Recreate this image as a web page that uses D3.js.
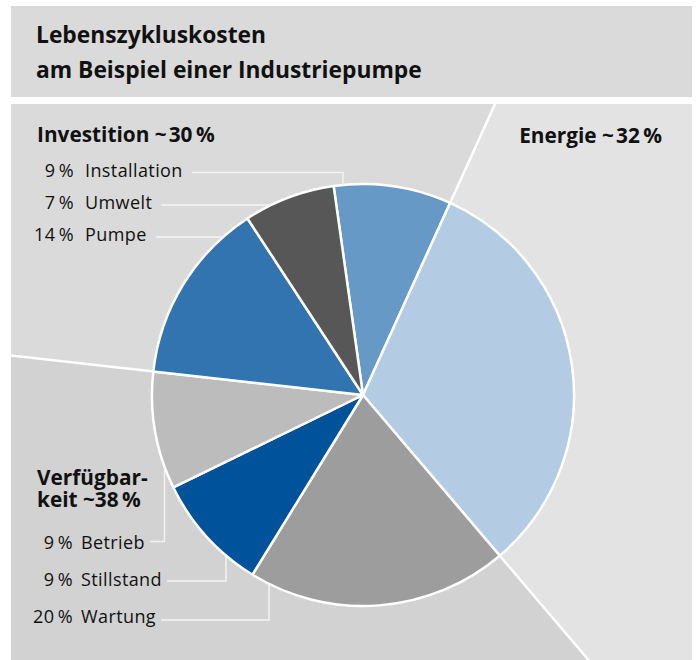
<!DOCTYPE html>
<html>
<head>
<meta charset="utf-8">
<script src="https://cdn.jsdelivr.net/npm/d3@7"></script>
<style>
  body { margin: 0; background: #fff; }
  svg { display: block; }
</style>
</head>
<body>
<div id="chart"></div>
<script>
// slices, clockwise from the top
const sliceNames = ["Installation", "Energie", "Wartung", "Stillstand", "Betrieb", "Pumpe", "Umwelt"];
const sliceValues = [9, 32, 20, 9, 9, 14, 7];
const sliceColors = ["#6699c6", "#b3cce3", "#9d9d9d", "#00529b", "#bcbcbc", "#3274b0", "#575757"];

// groups of slices (first / last slice index)
const groupNames = ["Investition", "Energie", "Verfügbarkeit"];
const groupShares = [30, 32, 38];
const groupSlices = [[5, 0], [1, 1], [2, 4]];
const groupColors = ["#d9dad9", "#e3e3e3", "#d1d2d1"];

const title = ["Lebenszykluskosten", "am Beispiel einer Industriepumpe"];

const width = 697, height = 660;
const cx = 363, cy = 395, r = 211;
const font = "'Open Sans', 'Noto Sans', sans-serif";

const svg = d3.select("#chart").append("svg")
    .attr("width", width)
    .attr("height", height)
    .attr("font-family", font)
    .attr("fill", "#111");

// title box
svg.append("rect")
    .attr("x", 11).attr("y", 6)
    .attr("width", 681).attr("height", 91)
    .attr("fill", "#d9dad9");

svg.append("text")
    .attr("x", 36).attr("y", 43)
    .attr("font-size", 22.8)
    .attr("font-weight", 700)
    .selectAll("tspan")
    .data(title)
    .join("tspan")
    .attr("x", 36)
    .attr("dy", (d, i) => i ? 34.5 : 0)
    .text(d => d);

// pie layout
const pie = d3.pie()
    .sort(null)
    .startAngle(-8 * Math.PI / 180)
    .endAngle(352 * Math.PI / 180);
const arcs = pie(sliceValues);

// background regions, one wedge per group, clipped to the panel
svg.append("clipPath").attr("id", "panel")
    .append("rect")
    .attr("x", 11).attr("y", 104)
    .attr("width", 681).attr("height", height - 104);

const big = d3.arc().innerRadius(0).outerRadius(1500);
const bg = svg.append("g")
    .attr("clip-path", "url(#panel)")
    .append("g")
    .attr("transform", `translate(${cx},${cy})`);

const regions = groupSlices.map(([a, b], i) => {
    let s = arcs[a].startAngle, e = arcs[b].endAngle;
    if (e < s) e += 2 * Math.PI;
    return {startAngle: s, endAngle: e, color: groupColors[i]};
});

bg.selectAll("path")
    .data(regions)
    .join("path")
    .attr("d", big)
    .attr("fill", d => d.color);

bg.selectAll("line")
    .data(regions)
    .join("line")
    .attr("x1", 0).attr("y1", 0)
    .attr("x2", d => 1500 * Math.sin(d.startAngle))
    .attr("y2", d => -1500 * Math.cos(d.startAngle))
    .attr("stroke", "#fff")
    .attr("stroke-width", 2.5);

// pie
const arc = d3.arc().innerRadius(0).outerRadius(r);
svg.append("g")
    .attr("transform", `translate(${cx},${cy})`)
    .selectAll("path")
    .data(arcs)
    .join("path")
    .attr("d", arc)
    .attr("fill", (d, i) => sliceColors[i])
    .attr("stroke", "#fff")
    .attr("stroke-width", 2.5)
    .attr("stroke-linejoin", "round");

// group headings
const headings = [
    {lines: [`${groupNames[0]} ~\u200a${groupShares[0]}\u2009%`], x: 37, y: 142, anchor: "start"},
    {lines: [`${groupNames[1]} ~\u200a${groupShares[1]}\u2009%`], x: 662, y: 143, anchor: "end"},
    {lines: ["Verfügbar-", `keit ~${groupShares[2]}\u2009%`], x: 37, y: 485, anchor: "start"}
];
headings.forEach(h => {
    svg.append("text")
        .attr("x", h.x).attr("y", h.y)
        .attr("text-anchor", h.anchor)
        .attr("font-size", 20.8)
        .attr("font-weight", 700)
        .selectAll("tspan")
        .data(h.lines)
        .join("tspan")
        .attr("x", h.x)
        .attr("dy", (d, i) => i ? 22 : 0)
        .text(d => d);
});

// slice labels with leader lines
// elbow: x of the vertical part of the leader (null = straight to the edge)
const labels = [
    {i: 0, y: 176.5, lineY: 172.5, numX: 74, nameX: 85, gap: 9, elbow: 343, side: -1},
    {i: 6, y: 209, lineY: 205, numX: 74, nameX: 85, gap: 9, elbow: null},
    {i: 5, y: 241, lineY: 237, numX: 74, nameX: 85, gap: 9, elbow: null},
    {i: 4, y: 549, lineY: 541.5, numX: 73, nameX: 81, gap: 5, elbow: 164.5, side: 1},
    {i: 3, y: 586, lineY: 581, numX: 73, nameX: 81, gap: 5, elbow: 226, side: 1},
    {i: 2, y: 623, lineY: 620, numX: 73, nameX: 81, gap: 5, elbow: 269, side: 1}
];

const lab = svg.append("g")
    .attr("font-size", 18)
    .attr("letter-spacing", 0.4);
labels.forEach(l => {
    lab.append("text")
        .attr("x", l.numX).attr("y", l.y)
        .attr("text-anchor", "end")
        .text(`${sliceValues[l.i]}\u2009%`);
    const name = lab.append("text")
        .attr("x", l.nameX).attr("y", l.y)
        .text(sliceNames[l.i]);
    const x0 = l.nameX + name.node().getComputedTextLength() + l.gap;
    let pts;
    if (l.elbow == null) {
        const ex = cx - Math.sqrt(r * r - (l.lineY - cy) ** 2);
        pts = [[x0, l.lineY], [ex, l.lineY]];
    } else {
        const ey = cy + l.side * Math.sqrt(r * r - (l.elbow - cx) ** 2);
        pts = [[x0, l.lineY], [l.elbow, l.lineY], [l.elbow, ey]];
    }
    lab.append("path")
        .attr("d", d3.line()(pts))
        .attr("fill", "none")
        .attr("stroke", "#f4f4f4")
        .attr("stroke-width", 1.4);
});
</script>
</body>
</html>
